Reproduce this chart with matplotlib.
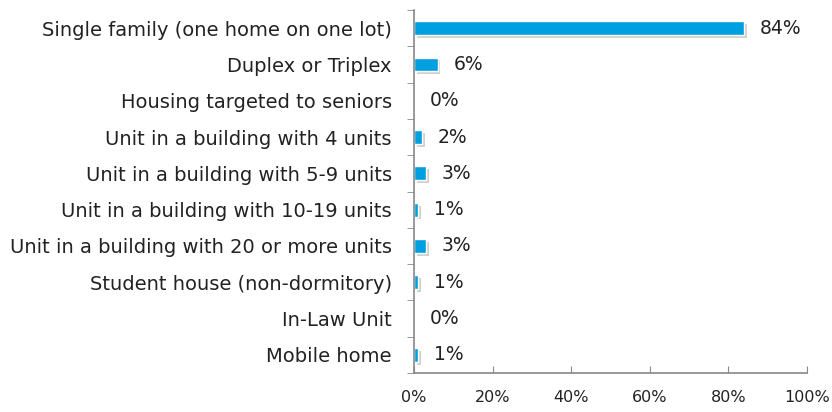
import matplotlib
matplotlib.use("Agg")
import matplotlib.pyplot as plt
import matplotlib.patheffects as pe
import numpy as np

categories = [
    "Single family (one home on one lot)",
    "Duplex or Triplex",
    "Housing targeted to seniors",
    "Unit in a building with 4 units",
    "Unit in a building with 5-9 units",
    "Unit in a building with 10-19 units",
    "Unit in a building with 20 or more units",
    "Student house (non-dormitory)",
    "In-Law Unit",
    "Mobile home",
]
values = [84, 6, 0, 2, 3, 1, 3, 1, 0, 1]
labels = ["84%", "6%", "0%", "2%", "3%", "1%", "3%", "1%", "0%", "1%"]
xticks = [0, 20, 40, 60, 80, 100]

plt.rcParams['font.family'] = ['DejaVu Sans']

fig = plt.figure(figsize=(8.32, 4.12), dpi=100)
ax = fig.add_axes([414 / 832, 1 - 373 / 412, 393 / 832, 363 / 412])

y = np.arange(len(categories))
bars = ax.barh(y, values, height=0.38, color='#009fdf', edgecolor='white', linewidth=1.0)
for b in bars:
    b.set_path_effects([pe.SimplePatchShadow(offset=(2, -2), shadow_rgbFace='#999999', alpha=0.45),
                        pe.Normal()])

for yi, v, lab in zip(y, values, labels):
    ax.text(v + 4, yi, lab, va='center', ha='left', fontsize=13.5, color='#222222')

ax.set_xlim(0, 100)
ax.set_ylim(len(categories) - 0.5, -0.5)
ax.set_yticks(y)
ax.set_yticklabels(categories, fontsize=14, color='#222222')
ax.set_yticks(np.arange(len(categories) + 1) - 0.5, minor=True)
ax.tick_params(axis='y', which='major', length=0, pad=16)
ax.tick_params(axis='y', which='minor', length=5, direction='out', color='#888888')
ax.set_xticks(xticks)
ax.set_xticklabels([f"{t}%" for t in xticks], fontsize=11.5, color='#222222')
ax.tick_params(axis='x', direction='in', length=5, color='#888888', pad=12)

for s in ['top', 'right']:
    ax.spines[s].set_visible(False)
for s in ['left', 'bottom']:
    ax.spines[s].set_color('#888888')
    ax.spines[s].set_linewidth(1.2)

fig.savefig("out.png", dpi=100)
